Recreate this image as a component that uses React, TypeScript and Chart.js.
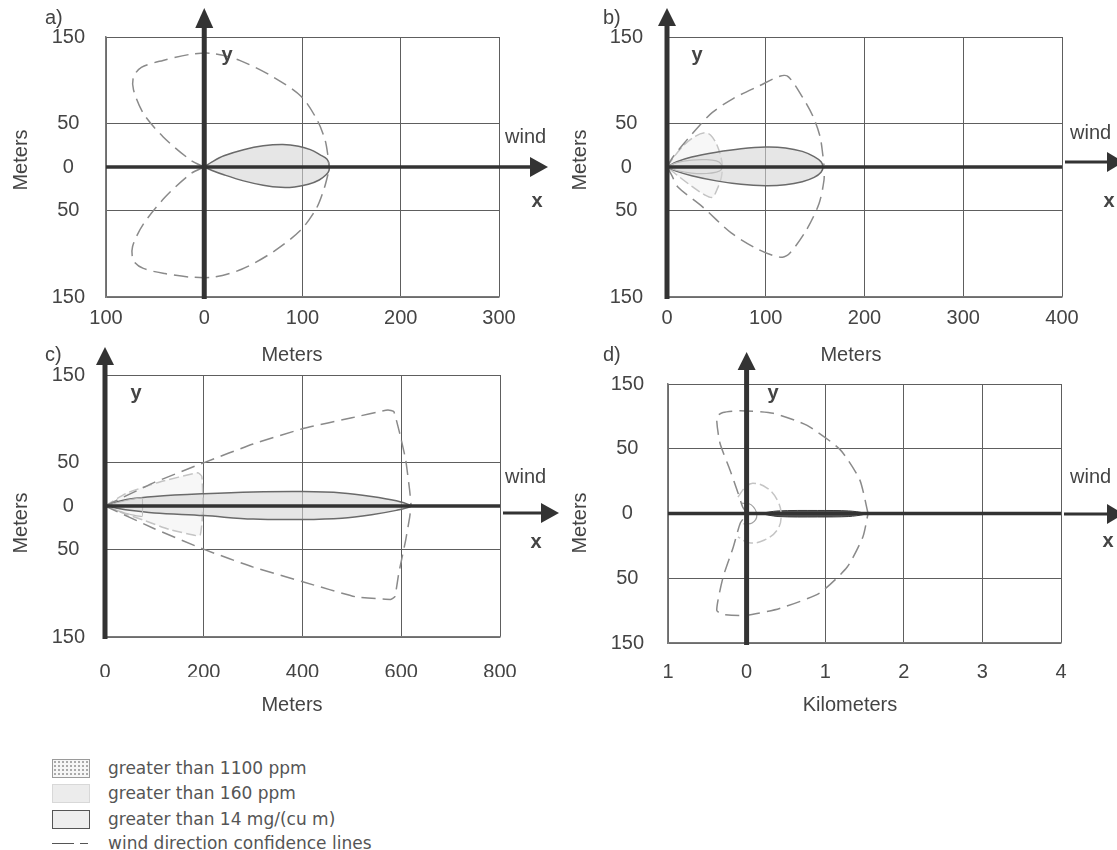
import React, { useEffect, useRef } from "react";
import { Chart, registerables } from "chart.js";
Chart.register(...registerables);

const FONT = "'Liberation Sans', Arial, Helvetica, sans-serif";
const TEXT = "#444";
const AXIS = "#333";
const GRID = "#5e5e5e";
const BORDER = "#7a7a7a";

// ---------- tick values and labels ----------
const xTicksA = [-100, 0, 100, 200, 300];
const xLabelsA = ["100", "0", "100", "200", "300"];
const xTicksB = [0, 100, 200, 300, 400];
const xLabelsB = ["0", "100", "200", "300", "400"];
const xTicksC = [0, 200, 400, 600, 800];
const xLabelsC = ["0", "200", "400", "600", "800"];
const xTicksD = [-1, 0, 1, 2, 3, 4];
const xLabelsD = ["1", "0", "1", "2", "3", "4"];
const yTicksABC = [-150, -50, 0, 50, 150];
const yTicksD = [-150, -75, 0, 75, 150];
const yLabels = ["150", "50", "0", "50", "150"];

// ---------- panel a ----------
const plumeA = [[0,0],[8,6],[20,13],[40,20],[60,24.5],[80,26],[96,24],[108,20],[118,14],[125,9],[127,3],[127,-4],[124,-9],[117,-15],[106,-20],[92,-23],[78,-23.5],[60,-21],[40,-16],[20,-9],[8,-4],[0,0]];
const confA1 = [[0,0],[-14,8],[-42,35],[-62,62],[-72,89],[-72,104],[-64,115],[-42,123],[-14,130],[9,131],[36,123],[70,104],[99,81],[115,54],[123,31],[126,12],[127,1]];
const confA2 = [[0,0],[-14,-8],[-40,-35],[-62,-66],[-73,-92],[-72,-108],[-62,-117],[-40,-123],[-14,-127],[10,-127],[38,-118],[70,-98],[98,-73],[114,-48],[122,-25],[126,-8],[127,-2]];

// ---------- panel b ----------
const plumeB = [[0,0],[10,6],[25,11.5],[50,17],[75,21],[100,23],[120,22],[137,18],[149,12],[156,6],[158,0],[156,-6],[149,-12],[137,-17],[120,-20.5],[100,-21.5],[75,-20],[50,-16],[25,-10],[10,-5],[0,0]];
const confB1 = [[0,0],[6,11.5],[20,31],[33,48],[46,63],[67,79],[94,94],[115,105],[123,104],[137,81],[148,58],[155,35],[158,12],[159,2]];
const confB2 = [[0,0],[5,-10],[11,-23],[36,-46],[65,-76],[94,-96],[114,-104],[123,-101],[141,-73],[154,-42],[159,-15],[159,-2]];
const ppm160B = [[0,0],[6,10],[16,24],[28,35],[38,39.5],[44,37],[50,27],[54,14],[56,2],[55,-12],[51,-25],[46,-35],[38,-32],[26,-23],[12,-11],[0,0]];
const ppm1100B = [[0,0],[10,5],[25,8],[40,8.5],[50,7],[55,3],[55,-3],[50,-6],[40,-7.5],[25,-7],[10,-4],[0,0]];

// ---------- panel c ----------
const plumeC = [[0,0],[20,4],[50,8],[100,11],[200,14],[300,16],[400,16.5],[480,15],[540,11],[590,6],[618,1],[618,-1],[590,-5],[540,-10],[480,-14],[400,-15.5],[300,-15],[200,-11],[100,-8],[50,-5],[20,-2],[0,0]];
const confC1 = [[0,0],[100,27],[202,50],[300,71],[403,89],[500,101],[573,110],[585,108],[597,83],[609,53],[617,18],[620,0]];
const confC2 = [[0,0],[100,-26],[202,-50],[300,-70],[402,-87],[508,-104],[578,-107],[587,-104],[595,-77],[609,-39],[617,-13],[620,0]];
const ppm160C = [[0,0],[45,15],[111,27.5],[188,38],[196,34],[198,10],[197,-15],[193,-33],[185,-34],[131,-27],[77,-16],[36,-8],[0,0]];
const ppm1100C = [[0,0],[40,6],[75,9],[76,-2],[75,-12],[40,-8],[0,0]];

// ---------- panel d (x in kilometers) ----------
const plumeD = [[0.17,0],[0.4,3],[0.9,3.5],[1.3,3],[1.5,0.5],[1.5,-1],[1.3,-3.5],[0.9,-4],[0.4,-3.5],[0.17,0]];
const confD = [[1.545,0],[1.44,39],[1.19,74],[0.77,102],[0.34,116],[-0.08,119],[-0.3,117],[-0.38,112],[-0.34,82],[-0.21,50],[-0.11,24],[-0.05,7.5],[0,0],[-0.08,-11],[-0.17,-39],[-0.3,-74],[-0.38,-112],[-0.3,-117],[0,-118],[0.42,-110],[0.93,-92],[1.28,-62],[1.48,-27],[1.545,0]];
const ppm160D = [[-0.11,19],[-0.02,30],[0.08,35],[0.26,29.5],[0.39,15.6],[0.44,-2],[0.39,-19],[0.22,-31],[0.03,-34],[-0.11,-27]];
const ppm1100D = [[-0.06,12],[0.06,10],[0.13,-2],[0.07,-11],[-0.04,-12]];

// ---------- styles ----------
const plumeStyle = { borderColor: "#6a6a6a", borderWidth: 1.5, backgroundColor: "rgba(214,214,214,0.6)", fill: "shape", tension: 0.35 };
const plumeDStyle = { borderColor: "#3a3a3a", borderWidth: 1, backgroundColor: "rgba(70,70,70,0.9)", fill: "shape", tension: 0.3 };
const confStyle = { borderColor: "#8a8a8a", borderWidth: 1.5, borderDash: [14, 7], fill: false, tension: 0.3 };
const confSharpStyle = { ...confStyle, tension: 0.12 };
const ppm160Style = { borderColor: "#c4c4c4", borderWidth: 1.5, borderDash: [10, 4], backgroundColor: "rgba(240,240,240,0.5)", fill: "shape", tension: 0.3 };
const ppm160OpenStyle = { borderColor: "#c4c4c4", borderWidth: 1.5, borderDash: [10, 4], fill: false, tension: 0.4 };
const ppm1100Style = { borderColor: "#bdbdbd", borderWidth: 1.2, fill: false, tension: 0.35 };
const ppm1100DStyle = { borderColor: "#a0a0a0", borderWidth: 1.2, fill: false, tension: 0.4 };

type Txt = { t: string; x: number; y: number; align?: CanvasTextAlign; bold?: boolean; rot?: boolean };
type Cfg = {
  left: number; top: number; w: number; h: number;
  area: { left: number; top: number; right: number; bottom: number };
  xMin: number; xMax: number; xTicks: number[]; xLabels: string[];
  yMin: number; yMax: number; yTicks: number[]; yLabels: string[];
  xPad: number; yPad: number;
  sets: { pts: number[][]; style: any }[];
  texts: Txt[];
  yTip: number; yBase: number;
  xArrow: { attached: boolean; start: number; base: number; tip: number; y: number };
};

const panels: Cfg[] = [
  {
    left: 0, top: 0, w: 560, h: 380,
    area: { left: 106, top: 37, right: 499, bottom: 297 },
    xMin: -100, xMax: 300, xTicks: xTicksA, xLabels: xLabelsA,
    yMin: -150, yMax: 150, yTicks: yTicksABC, yLabels,
    xPad: 9, yPad: 21,
    sets: [
      { pts: confA1, style: confStyle },
      { pts: confA2, style: confStyle },
      { pts: plumeA, style: plumeStyle },
    ],
    texts: [
      { t: "a)", x: 45, y: 18, align: "left" },
      { t: "Meters", x: 21, y: 160, rot: true },
      { t: "Meters", x: 292, y: 355 },
      { t: "y", x: 227, y: 55, bold: true },
      { t: "wind", x: 505, y: 137, align: "left" },
      { t: "x", x: 537, y: 201, bold: true },
    ],
    yTip: 8, yBase: 28,
    xArrow: { attached: true, start: 0, base: 530, tip: 548, y: 0 },
  },
  {
    left: 560, top: 0, w: 557, h: 380,
    area: { left: 107, top: 37, right: 502, bottom: 297 },
    xMin: 0, xMax: 400, xTicks: xTicksB, xLabels: xLabelsB,
    yMin: -150, yMax: 150, yTicks: yTicksABC, yLabels,
    xPad: 9, yPad: 24,
    sets: [
      { pts: confB1, style: confStyle },
      { pts: confB2, style: confStyle },
      { pts: ppm1100B, style: ppm1100Style },
      { pts: plumeB, style: plumeStyle },
      { pts: ppm160B, style: ppm160Style },
    ],
    texts: [
      { t: "b)", x: 43, y: 18, align: "left" },
      { t: "Meters", x: 20, y: 160, rot: true },
      { t: "Meters", x: 291, y: 355 },
      { t: "y", x: 137, y: 55, bold: true },
      { t: "wind", x: 510, y: 133, align: "left" },
      { t: "x", x: 549, y: 201, bold: true },
    ],
    yTip: 8, yBase: 26,
    xArrow: { attached: false, start: 505, base: 547, tip: 564, y: 162 },
  },
  {
    left: 0, top: 340, w: 560, h: 380,
    area: { left: 105, top: 35, right: 500, bottom: 297 },
    xMin: 0, xMax: 800, xTicks: xTicksC, xLabels: xLabelsC,
    yMin: -150, yMax: 150, yTicks: yTicksABC, yLabels,
    xPad: 23, yPad: 20,
    sets: [
      { pts: confC1, style: confSharpStyle },
      { pts: confC2, style: confSharpStyle },
      { pts: ppm1100C, style: { ...ppm1100Style, tension: 0.1 } },
      { pts: plumeC, style: plumeStyle },
      { pts: ppm160C, style: { ...ppm160Style, tension: 0.15 } },
    ],
    texts: [
      { t: "c)", x: 45, y: 15, align: "left" },
      { t: "Meters", x: 21, y: 183, rot: true },
      { t: "Meters", x: 292, y: 365 },
      { t: "y", x: 136, y: 53, bold: true },
      { t: "wind", x: 505, y: 137, align: "left" },
      { t: "x", x: 536, y: 202, bold: true },
    ],
    yTip: 7, yBase: 25,
    xArrow: { attached: false, start: 503, base: 541, tip: 559, y: 173 },
  },
  {
    left: 560, top: 340, w: 557, h: 380,
    area: { left: 108, top: 44, right: 501, bottom: 303 },
    xMin: -1, xMax: 4, xTicks: xTicksD, xLabels: xLabelsD,
    yMin: -150, yMax: 150, yTicks: yTicksD, yLabels,
    xPad: 17, yPad: 24,
    sets: [
      { pts: confD, style: { ...confStyle, tension: 0.2 } },
      { pts: ppm1100D, style: ppm1100DStyle },
      { pts: ppm160D, style: ppm160OpenStyle },
      { pts: plumeD, style: plumeDStyle },
    ],
    texts: [
      { t: "d)", x: 43, y: 15, align: "left" },
      { t: "Meters", x: 20, y: 183, rot: true },
      { t: "Kilometers", x: 290, y: 365 },
      { t: "y", x: 213, y: 53, bold: true },
      { t: "wind", x: 510, y: 137, align: "left" },
      { t: "x", x: 548, y: 201, bold: true },
    ],
    yTip: 12, yBase: 30,
    xArrow: { attached: false, start: 504, base: 547, tip: 564, y: 174 },
  },
];

function arrowRight(ctx: CanvasRenderingContext2D, x1: number, base: number, tip: number, y: number, lw: number) {
  ctx.strokeStyle = AXIS;
  ctx.fillStyle = AXIS;
  ctx.lineWidth = lw;
  ctx.beginPath();
  ctx.moveTo(x1, y);
  ctx.lineTo(base + 1, y);
  ctx.stroke();
  ctx.beginPath();
  ctx.moveTo(tip, y);
  ctx.lineTo(base, y - 10);
  ctx.lineTo(base, y + 10);
  ctx.closePath();
  ctx.fill();
}

function Panel({ cfg }: { cfg: Cfg }) {
  const ref = useRef<HTMLCanvasElement>(null);
  useEffect(() => {
    const overlay = {
      id: "overlay",
      afterDatasetsDraw(chart: any) {
        const ctx: CanvasRenderingContext2D = chart.ctx;
        const xs = chart.scales.x;
        const ys = chart.scales.y;
        const ca = chart.chartArea;
        const x0 = xs.getPixelForValue(0);
        const y0 = ys.getPixelForValue(0);
        ctx.save();
        // x axis (thick)
        ctx.strokeStyle = AXIS;
        ctx.lineWidth = 3.5;
        if (cfg.xArrow.attached) {
          arrowRight(ctx, ca.left, cfg.xArrow.base, cfg.xArrow.tip, y0, 3.5);
        } else {
          ctx.beginPath();
          ctx.moveTo(ca.left, y0);
          ctx.lineTo(ca.right, y0);
          ctx.stroke();
          arrowRight(ctx, cfg.xArrow.start, cfg.xArrow.base, cfg.xArrow.tip, cfg.xArrow.y, 3);
        }
        // y axis (thick) with arrow
        ctx.strokeStyle = AXIS;
        ctx.fillStyle = AXIS;
        ctx.lineWidth = 5;
        ctx.beginPath();
        ctx.moveTo(x0, ca.bottom + 2);
        ctx.lineTo(x0, cfg.yBase - 1);
        ctx.stroke();
        ctx.beginPath();
        ctx.moveTo(x0, cfg.yTip);
        ctx.lineTo(x0 - 9, cfg.yBase);
        ctx.lineTo(x0 + 9, cfg.yBase);
        ctx.closePath();
        ctx.fill();
        // texts
        ctx.fillStyle = TEXT;
        ctx.textBaseline = "middle";
        for (const t of cfg.texts) {
          ctx.font = `${t.bold ? "bold " : ""}20px ${FONT}`;
          ctx.textAlign = t.align || "center";
          if (t.rot) {
            ctx.save();
            ctx.translate(t.x, t.y);
            ctx.rotate(-Math.PI / 2);
            ctx.textAlign = "center";
            ctx.fillText(t.t, 0, 0);
            ctx.restore();
          } else {
            ctx.fillText(t.t, t.x, t.y);
          }
        }
        ctx.restore();
      },
    };

    const chart = new Chart(ref.current as HTMLCanvasElement, {
      type: "line",
      data: {
        datasets: cfg.sets.map((s) => ({
          data: s.pts.map(([x, y]) => ({ x, y })),
          pointRadius: 0,
          pointHoverRadius: 0,
          ...s.style,
        })),
      },
      options: {
        responsive: false,
        animation: false,
        events: [],
        layout: {
          padding: {
            left: 0,
            top: cfg.area.top,
            right: cfg.w - cfg.area.right,
            bottom: cfg.h - cfg.area.bottom - 40,
          },
        },
        plugins: { legend: { display: false }, tooltip: { enabled: false } },
        scales: {
          x: {
            type: "linear",
            min: cfg.xMin,
            max: cfg.xMax,
            afterBuildTicks: (s: any) => {
              s.ticks = cfg.xTicks.map((v) => ({ value: v }));
            },
            afterFit: (s: any) => {
              s.height = 40;
            },
            ticks: {
              callback: (_v: any, i: number) => cfg.xLabels[i],
              font: { family: FONT, size: 20 },
              color: TEXT,
              padding: cfg.xPad,
              maxRotation: 0,
              autoSkip: false,
            },
            grid: { color: GRID, lineWidth: 1, drawTicks: false },
            border: { display: true, color: BORDER, width: 1.5 },
          },
          y: {
            type: "linear",
            min: cfg.yMin,
            max: cfg.yMax,
            afterBuildTicks: (s: any) => {
              s.ticks = cfg.yTicks.map((v) => ({ value: v }));
            },
            afterFit: (s: any) => {
              s.width = cfg.area.left;
            },
            ticks: {
              callback: (_v: any, i: number) => cfg.yLabels[i],
              font: { family: FONT, size: 20 },
              color: TEXT,
              padding: cfg.yPad,
              crossAlign: "center",
              autoSkip: false,
            },
            grid: { color: GRID, lineWidth: 1, drawTicks: false },
            border: { display: true, color: BORDER, width: 1.5 },
          },
        },
      } as any,
      plugins: [overlay],
    });
    return () => chart.destroy();
  }, [cfg]);
  return (
    <canvas
      ref={ref}
      width={cfg.w}
      height={cfg.h}
      style={{ position: "absolute", left: cfg.left, top: cfg.top, width: cfg.w, height: cfg.h }}
    />
  );
}

const legendItems = [
  "greater than 1100 ppm",
  "greater than 160 ppm",
  "greater than 14 mg/(cu m)",
  "wind direction confidence lines",
];
const legendRowY = [768, 793, 819, 843];

export default function App() {
  const boxBase: React.CSSProperties = { position: "absolute", left: 52, width: 36, height: 17, boxSizing: "content-box" };
  return (
    <div style={{ position: "fixed", left: 0, top: 0, width: 1117, height: 850, background: "#fff", overflow: "hidden" }}>
      {panels.map((p, i) => (
        <Panel key={i} cfg={p} />
      ))}
      <div
        style={{
          ...boxBase,
          top: legendRowY[0] - 9,
          border: "1px solid #9a9a9a",
          background: "#f6f6f6",
          backgroundImage: "radial-gradient(circle, #a8a8a8 0.7px, transparent 1.1px)",
          backgroundSize: "4px 4px",
        }}
      />
      <div style={{ ...boxBase, top: legendRowY[1] - 9, border: "1px solid #d8d8d8", background: "#ececec" }} />
      <div style={{ ...boxBase, top: legendRowY[2] - 9, border: "1.5px solid #555", background: "#eeeeee" }} />
      <div style={{ position: "absolute", left: 52, top: legendRowY[3], width: 22, height: 0, borderTop: "1.5px solid #555" }} />
      <div style={{ position: "absolute", left: 80, top: legendRowY[3], width: 8, height: 0, borderTop: "1.5px solid #555" }} />
      {legendItems.map((t, i) => (
        <div
          key={t}
          style={{
            position: "absolute",
            left: 108,
            top: legendRowY[i] - 11,
            height: 22,
            lineHeight: "22px",
            fontFamily: "'DejaVu Sans', Verdana, sans-serif",
            fontSize: 17,
            color: "#555",
            whiteSpace: "nowrap",
          }}
        >
          {t}
        </div>
      ))}
    </div>
  );
}
